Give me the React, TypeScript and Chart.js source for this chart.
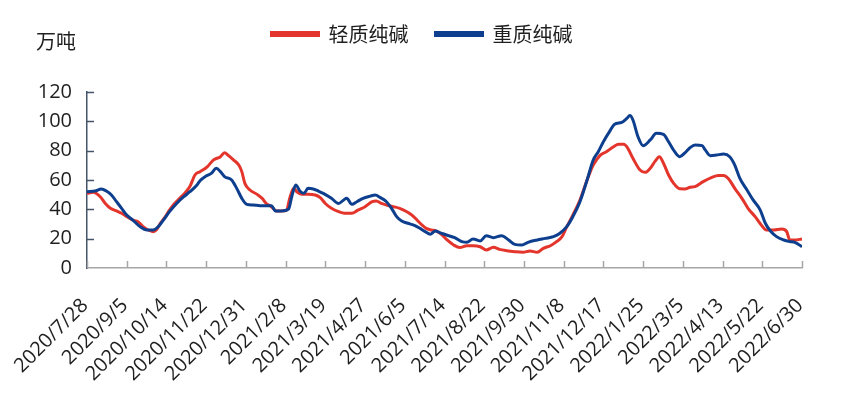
import { useEffect, useRef } from 'react';
import { Chart, registerables } from 'chart.js';

Chart.register(...registerables);

const unitLabel = '万吨';
const seriesNames = ['轻质纯碱', '重质纯碱'];
const seriesColors = ['#E3352B', '#0E3F8E'];
const dayStep = 39;
const tickLabels = [
  '2020/7/28', '2020/9/5', '2020/10/14', '2020/11/22', '2020/12/31', '2021/2/8',
  '2021/3/19', '2021/4/27', '2021/6/5', '2021/7/14', '2021/8/22', '2021/9/30',
  '2021/11/8', '2021/12/17', '2022/1/25', '2022/3/5', '2022/4/13', '2022/5/22', '2022/6/30',
];
const yMin = 0;
const yMax = 120;
const yStep = 20;

// days since 2020/7/28
const lightDays = [
  0, 6, 13, 18, 23, 29, 34, 39, 45, 50, 55, 60, 65, 68, 72, 77, 81, 86, 91, 96,
  101, 106, 111, 118, 124, 131, 135, 139, 144, 149, 152, 155, 160, 167, 172, 176, 181, 186, 191, 196,
  199, 203, 206, 211, 217, 224, 229, 234, 240, 247, 253, 260, 266, 273, 280, 284, 289, 294, 301, 307,
  314, 319, 324, 329, 333, 338, 343, 348, 353, 360, 366, 373, 379, 386, 392, 399, 405, 412, 420, 428,
  435, 442, 448, 455, 461, 466, 471, 477, 484, 491, 497, 504, 510, 517, 522, 527, 531, 536, 543, 548,
  553, 558, 562, 566, 571, 576, 582, 587, 592, 597, 605, 613, 620, 625, 630, 636, 643, 649, 656, 662,
  667, 674, 682, 687, 690, 695, 702,
];
const lightValues = [
  50.9, 51.6, 48.6, 44, 40.7, 38.9, 37.3, 35, 32.7, 31.6, 28.2, 25.9, 24.8, 25.9, 30.5, 35, 39.5, 44, 47.5, 51,
  55.5, 63.4, 65.7, 69, 73.6, 75.9, 78.6, 76.6, 73.6, 70.2, 65.7, 57.7, 53.2, 50.2, 47.5, 44, 41.8, 38.9, 38.9, 39.5,
  47.5, 54.3, 52, 50.2, 50.2, 49.8, 48, 44, 40.7, 38.4, 37.3, 37.3, 39.5, 41.8, 45.2, 45.7, 44, 43, 41.8, 40.7,
  38.4, 36.1, 32.7, 29.3, 27, 25.9, 25.2, 23, 19.5, 15.7, 13.9, 15.2, 15.2, 14.5, 12.3, 14.1, 12.7, 11.8, 11.1, 10.7,
  11.6, 10.7, 13.4, 15.2, 18, 21, 28, 36.1, 46.4, 60, 70.2, 77, 79.3, 82.7, 84.3, 84.3, 81.6, 74.8, 66.8, 65.2,
  68, 73, 75.9, 71.4, 63.4, 57.7, 54, 53.9, 55, 55.5, 58.9, 61.6, 63, 63, 60.7, 54.3, 47.5, 40.7, 35, 29.3,
  25.9, 25.9, 26.6, 24.8, 19.1, 19.1, 19.8,
];

const heavyDays = [
  0, 8, 14, 19, 24, 29, 34, 39, 45, 52, 59, 65, 70, 75, 81, 88, 95, 101, 108, 111,
  116, 122, 127, 131, 135, 142, 147, 152, 157, 163, 170, 176, 181, 185, 191, 198, 201, 205, 209, 213,
  217, 222, 227, 232, 240, 247, 252, 255, 260, 265, 271, 278, 283, 288, 294, 299, 304, 309, 315, 322,
  327, 332, 337, 342, 347, 353, 361, 368, 373, 379, 386, 392, 399, 407, 414, 420, 427, 433, 442, 450,
  458, 464, 471, 477, 484, 491, 497, 502, 507, 513, 518, 525, 530, 533, 536, 541, 546, 553, 559, 566,
  571, 577, 582, 587, 592, 597, 604, 607, 612, 618, 625, 631, 636, 641, 648, 654, 661, 666, 671, 677,
  684, 690, 695, 702,
];
const heavyValues = [
  52, 52.5, 53.9, 52.5, 49.8, 45.2, 40.7, 36.1, 32.7, 28.2, 25.9, 25.9, 28.2, 32.7, 38.4, 44, 48.6, 52, 56.6, 59.5,
  62.3, 64.5, 68, 65.7, 62.3, 60, 54.3, 47.5, 43.4, 43, 42.5, 42.5, 42.5, 38.9, 38.9, 40.2, 48.6, 56.6, 52.5, 50.9,
  54.3, 53.9, 52.5, 50.9, 47.5, 44, 46.4, 47.5, 43.4, 45.2, 47.5, 49, 49.8, 48, 45.2, 40.7, 35, 32, 30.5, 28.9,
  27, 24.8, 23, 25.2, 24, 22.5, 20.7, 18, 17.5, 19.8, 18.4, 22, 20.7, 22, 19.1, 16.1, 15.7, 17.5, 19.1, 20.2,
  21.4, 23.5, 28.2, 35, 45.2, 60, 73.6, 79.3, 86.1, 93, 98, 99.3, 102, 103.9, 100.9, 89.5, 83.4, 87.3, 91.8, 91.1,
  86.1, 79.3, 75.9, 78.5, 82, 83.9, 83.4, 80.5, 76.6, 77, 77.7, 75.9, 70.2, 61.1, 53.2, 46.4, 39.5, 30.5, 25.2, 21.4,
  19.1, 18, 17.5, 14.5,
];

const toPoints = (days: number[], values: number[]) => days.map((d, i) => ({ x: d, y: values[i] }));

const latinFont = '"Open Sans", "Noto Sans", sans-serif';
const cjkFont = '"Noto Sans CJK SC", sans-serif';
const textColor = '#1f1f1f';
const yAxisColor = '#44546A';
const xAxisColor = '#A6A6A6';
const legendCenterX = 422;

const decorPlugin = {
  id: 'decor',
  beforeInit(chart: any) {
    if (chart.legend && !chart.legend.__patched) {
      const fit = chart.legend.fit;
      chart.legend.fit = function () {
        fit.call(this);
        this.height = 95;
      };
      chart.legend.__patched = true;
    }
  },
  afterLayout(chart: any) {
    const lg = chart.legend;
    if (!lg) return;
    const delta = legendCenterX - (lg.left + lg.right) / 2;
    lg.left += delta;
    lg.right += delta;
  },
  beforeDatasetsDraw(chart: any) {
    const ctx = chart.ctx;
    const { left, bottom } = chart.chartArea;
    const xs = chart.scales.x;
    const ys = chart.scales.y;
    ctx.save();
    ctx.lineWidth = 1.5;
    ctx.strokeStyle = xAxisColor;
    xs.ticks.forEach((t: any) => {
      const px = Math.round(xs.getPixelForValue(t.value)) + 0.5;
      ctx.beginPath();
      ctx.moveTo(px, bottom);
      ctx.lineTo(px, bottom - 7);
      ctx.stroke();
    });
    ctx.strokeStyle = yAxisColor;
    ys.ticks.forEach((t: any) => {
      if (t.value === yMin) return;
      const py = Math.round(ys.getPixelForValue(t.value)) + 0.5;
      ctx.beginPath();
      ctx.moveTo(left, py);
      ctx.lineTo(left + 7, py);
      ctx.stroke();
    });
    ctx.restore();
  },
  afterDraw(chart: any) {
    const ctx = chart.ctx;
    const { left } = chart.chartArea;
    ctx.save();
    ctx.fillStyle = textColor;
    ctx.font = '20px ' + cjkFont;
    ctx.textAlign = 'left';
    ctx.textBaseline = 'middle';
    ctx.fillText(unitLabel, left - 51, 41);
    ctx.restore();
  },
};

export default function App() {
  const canvasRef = useRef<HTMLCanvasElement | null>(null);

  useEffect(() => {
    if (!canvasRef.current) return;
    const chart = new Chart(canvasRef.current, {
      type: 'line',
      data: {
        datasets: [
          {
            label: seriesNames[0],
            data: toPoints(lightDays, lightValues),
            borderColor: seriesColors[0],
            backgroundColor: seriesColors[0],
            borderWidth: 3,
            pointRadius: 0,
            cubicInterpolationMode: 'monotone',
            order: 1,
          },
          {
            label: seriesNames[1],
            data: toPoints(heavyDays, heavyValues),
            borderColor: seriesColors[1],
            backgroundColor: seriesColors[1],
            borderWidth: 3,
            pointRadius: 0,
            cubicInterpolationMode: 'monotone',
            order: 0,
          },
        ],
      },
      options: {
        animation: false,
        responsive: false,
        maintainAspectRatio: false,
        layout: { padding: { left: 0, right: 58, top: -3, bottom: 0 } },
        plugins: {
          tooltip: { enabled: false },
          legend: {
            display: true,
            position: 'top',
            align: 'center',
            labels: {
              boxWidth: 47,
              boxHeight: 3,
              padding: 27,
              color: textColor,
              font: { family: cjkFont, size: 20 },
              sort: (a: any, b: any) => a.datasetIndex - b.datasetIndex,
            },
          },
        },
        scales: {
          x: {
            type: 'linear',
            min: 0,
            max: dayStep * (tickLabels.length - 1),
            afterBuildTicks: (scale: any) => {
              scale.ticks = tickLabels.map((_, i) => ({ value: i * dayStep }));
            },
            afterFit: (scale: any) => {
              scale.height = 129;
              scale.paddingLeft = 0;
              scale.paddingRight = 0;
            },
            grid: { display: false, drawTicks: false },
            border: { display: true, color: xAxisColor, width: 1.5 },
            ticks: {
              autoSkip: false,
              maxRotation: 45,
              minRotation: 45,
              padding: 26,
              labelOffset: -2,
              color: textColor,
              font: { family: latinFont, size: 20 },
              callback: (v: any) => tickLabels[Math.round(Number(v) / dayStep)] ?? '',
            },
          },
          y: {
            type: 'linear',
            min: yMin,
            max: yMax,
            afterFit: (scale: any) => {
              scale.width = 87;
            },
            grid: { display: false, drawTicks: false },
            border: { display: true, color: yAxisColor, width: 1.5 },
            ticks: {
              stepSize: yStep,
              autoSkip: false,
              padding: 15,
              color: textColor,
              font: { family: latinFont, size: 20 },
            },
          },
        },
      },
      plugins: [decorPlugin],
    } as any);
    return () => chart.destroy();
  }, []);

  return (
    <div style={{ position: 'fixed', left: 0, top: 0, width: 860, height: 397, background: '#fff' }}>
      <canvas ref={canvasRef} width={860} height={397} style={{ display: 'block' }} />
    </div>
  );
}
